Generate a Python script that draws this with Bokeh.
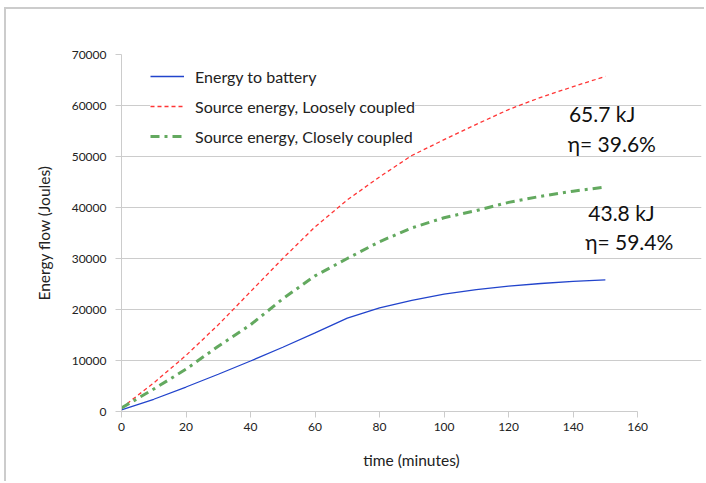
from bokeh.plotting import figure
from bokeh.models import Range1d, Legend, LegendItem, Label, FixedTicker
from bokeh.embed import file_html
from bokeh.resources import INLINE

time_min = [0, 10, 20, 30, 40, 50, 60, 70, 80, 90, 100, 110, 120, 130, 140, 150]
battery = [300, 2400, 4800, 7300, 9900, 12600, 15400, 18300, 20300, 21800, 23000, 23900, 24600, 25100, 25500, 25800]
loose = [700, 5600, 11000, 17000, 23500, 30000, 36200, 41500, 46000, 50200, 53300, 56300, 59200, 61600, 63700, 65700]
close = [700, 4400, 8300, 12800, 17000, 22100, 26600, 30000, 33300, 36000, 38000, 39400, 41000, 42200, 43200, 44000]

x_ticks = [0, 20, 40, 60, 80, 100, 120, 140, 160]
y_ticks = [0, 10000, 20000, 30000, 40000, 50000, 60000, 70000]

notes = [
    ("65.7 kJ", 149.0, 58400),
    ("η= 39.6%", 152.0, 52500),
    ("43.8 kJ", 155.0, 39000),
    ("η= 59.4%", 157.4, 33300),
]

FONT = "Lato"

p = figure(width=700, height=474, output_backend="svg", toolbar_location=None,
           x_range=Range1d(0, 179.8), y_range=Range1d(0, 70000),
           min_border_left=115, min_border_right=5, min_border_top=45, min_border_bottom=72)
p.margin = (7, 0, 0, 4)
p.styles = {"border-top": "2px solid #cccccc", "border-left": "2px solid #cccccc"}
p.outline_line_color = None
p.background_fill_color = "white"
p.border_fill_color = "white"

p.xgrid.grid_line_color = None
p.ygrid.grid_line_color = "#cccccc"
p.ygrid.grid_line_width = 1
p.ygrid.bounds = (0, 160)

for ax in (p.xaxis[0], p.yaxis[0]):
    ax.axis_line_color = "#cccccc"
    ax.major_tick_line_color = "#cccccc"
    ax.minor_tick_line_color = None
    ax.major_tick_in = 0
    ax.major_tick_out = 6
    ax.major_label_text_font = FONT
    ax.major_label_text_font_size = "12px"
    ax.major_label_text_color = "#222222"
    ax.axis_label_text_font = FONT
    ax.axis_label_text_font_size = "15.5px"
    ax.axis_label_text_font_style = "normal"
    ax.axis_label_text_color = "#222222"

p.xaxis.bounds = (0, 160)
p.xaxis.ticker = FixedTicker(ticks=x_ticks)
p.yaxis.ticker = FixedTicker(ticks=y_ticks)
p.yaxis.major_label_standoff = 9
p.xaxis.major_label_standoff = 5
p.xaxis.axis_label = "time (minutes)"
p.yaxis.axis_label = "Energy flow (Joules)"
p.xaxis.axis_label_standoff = 17
p.yaxis.axis_label_standoff = 16

r1 = p.line(time_min, battery, line_color="#2244cc", line_width=1.3)
r2 = p.line(time_min, loose, line_color="#ff3535", line_width=1.3, line_dash="4 3")
r3 = p.line(time_min, close, line_color="#63a95f", line_width=3, line_dash="9 5 3 5")

legend = Legend(items=[
    LegendItem(label="Energy to battery", renderers=[r1]),
    LegendItem(label="Source energy, Loosely coupled", renderers=[r2]),
    LegendItem(label="Source energy, Closely coupled", renderers=[r3]),
], location=(29, 265))
legend.border_line_color = None
legend.background_fill_color = "white"
legend.background_fill_alpha = 1
legend.padding = 6
legend.margin = 0
legend.spacing = 10
legend.glyph_width = 34
legend.glyph_height = 20
legend.label_height = 20
legend.label_standoff = 11
legend.label_text_font = FONT
legend.label_text_font_size = "16px"
legend.label_text_color = "#222222"
p.add_layout(legend, "center")

for txt, xx, yy in notes:
    p.add_layout(Label(x=xx, y=yy, text=txt, text_align="center", text_baseline="middle",
                       text_font=FONT, text_font_size="21px", text_color="#111111"))

open("out.html", "w").write(file_html(p, INLINE))
